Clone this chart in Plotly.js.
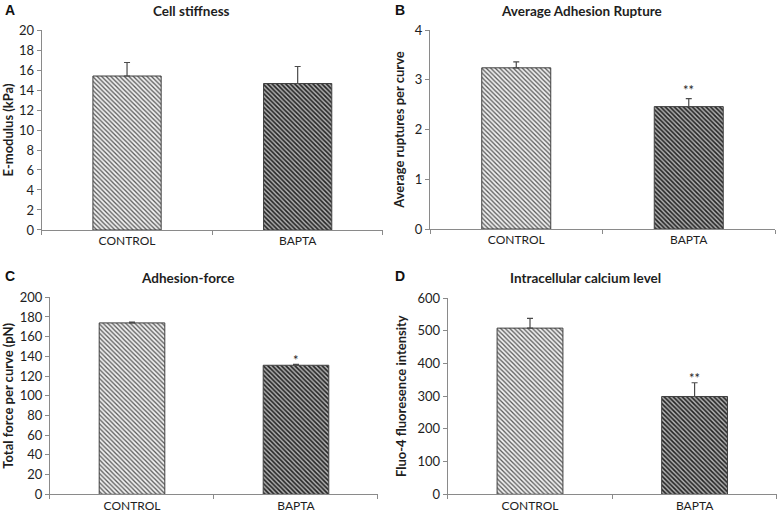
<!DOCTYPE html>
<html>
<head>
<meta charset="utf-8">
<script src="https://cdn.plot.ly/plotly-3.0.1.min.js"></script>
<style>
  html, body { margin: 0; padding: 0; background: #fff; }
  #chart { width: 780px; height: 520px; }
</style>
</head>
<body>
<div id="chart"></div>
<script>
// values
var groups = ["CONTROL", "BAPTA"];

var stiffness = [15.4, 14.65];
var stiffnessErr = [1.35, 1.7];

var ruptures = [3.24, 2.46];
var rupturesErr = [0.12, 0.16];

var adhesion = [174, 131];
var adhesionErr = [0.8, 1.0];

var calcium = [508, 299];
var calciumErr = [30, 42];

// significance marks: text and where they sit
var sigRuptures = ["", "**"];
var sigRupturesY = [0, 2.8];
var sigAdhesion = ["", "*"];
var sigAdhesionY = [0, 136];
var sigCalcium = ["", "**"];
var sigCalciumY = [0, 354];

var panelTitles = ["Cell stiffness", "Average Adhesion Rupture", "Adhesion-force", "Intracellular calcium level"];
var panelLetters = ["A", "B", "C", "D"];
var yTitles = ["E-modulus (kPa)", "Average ruptures per curve", "Total force per curve (pN)", "Fluo-4 fluoresence intensity"];

var FONT = "Lato, 'Open Sans', sans-serif";
var TXT = "#1e1e1e";

// hatch for each group: background colour, line colour, density
var barBg = ["#f0f0f0", "#b0b0b0"];
var barFg = ["#5a5a5a", "#222222"];
var barSolidity = [0.4, 0.5];

function makeTrace(k, vals, errs, n) {
    var sfx = n == 1 ? "" : String(n);
    return {
        type: "bar",
        x: [groups[k]],
        y: [vals[k]],
        width: 0.4,
        xaxis: "x" + sfx,
        yaxis: "y" + sfx,
        marker: {
            color: barBg[k],
            pattern: {
                shape: "\\",
                size: 3.2,
                solidity: barSolidity[k],
                fgcolor: barFg[k],
                fgopacity: 1,
                fillmode: "overlay"
            },
            line: { color: "#404040", width: 1 }
        },
        error_y: {
            type: "data",
            symmetric: false,
            array: [errs[k]],
            arrayminus: [0],
            color: "#4a4a4a",
            thickness: 1.2,
            width: 3
        },
        showlegend: false,
        hoverinfo: "skip"
    };
}

var data = [];
var sets = [[stiffness, stiffnessErr], [ruptures, rupturesErr], [adhesion, adhesionErr], [calcium, calciumErr]];
for (var p = 0; p < sets.length; p++) {
    for (var k = 0; k < groups.length; k++) {
        data.push(makeTrace(k, sets[p][0], sets[p][1], p + 1));
    }
}

function xAxis(domain, anchor) {
    return {
        domain: domain,
        anchor: anchor,
        type: "category",
        categoryarray: groups,
        range: [-0.5, 1.5],
        showline: true,
        linecolor: "#8a8a8a",
        linewidth: 1,
        ticks: "outside",
        tickson: "boundaries",
        ticklen: 4,
        tickcolor: "#8a8a8a",
        showgrid: false,
        zeroline: false,
        tickfont: { family: FONT, size: 12, color: TXT },
        fixedrange: true
    };
}

function yAxis(domain, anchor, range, dtick, title) {
    return {
        domain: domain,
        anchor: anchor,
        range: range,
        dtick: dtick,
        showline: true,
        linecolor: "#8a8a8a",
        linewidth: 1,
        ticks: "outside",
        ticklen: 4,
        tickcolor: "#8a8a8a",
        showgrid: false,
        zeroline: false,
        tickfont: { family: FONT, size: 13, color: TXT },
        title: { text: "<b>" + title + "</b>", font: { family: FONT, size: 13, color: TXT }, standoff: 7 },
        fixedrange: true
    };
}

var annotations = [];
var titlePos = [[0.245, 0.978], [0.746, 0.978], [0.240, 0.466], [0.751, 0.466]];
var letterPos = [[0.004, 0.980], [0.504, 0.980], [0.004, 0.470], [0.504, 0.470]];
for (var i = 0; i < 4; i++) {
    annotations.push({
        xref: "paper", yref: "paper", x: titlePos[i][0], y: titlePos[i][1],
        text: "<b>" + panelTitles[i] + "</b>", showarrow: false,
        xanchor: "center", yanchor: "middle",
        font: { family: FONT, size: 13.5, color: TXT }
    });
    annotations.push({
        xref: "paper", yref: "paper", x: letterPos[i][0], y: letterPos[i][1],
        text: "<b>" + panelLetters[i] + "</b>", showarrow: false,
        xanchor: "left", yanchor: "middle",
        font: { family: "'Liberation Sans', Arial, sans-serif", size: 14, color: "#111" }
    });
}

function addSig(marks, ys, n) {
    var sfx = n == 1 ? "" : String(n);
    for (var k = 0; k < groups.length; k++) {
        if (!marks[k]) continue;
        annotations.push({
            xref: "x" + sfx, yref: "y" + sfx, x: groups[k], y: ys[k],
            text: marks[k], showarrow: false, yanchor: "middle",
            font: { family: FONT, size: 13, color: TXT }
        });
    }
}
addSig(sigRuptures, sigRupturesY, 2);
addSig(sigAdhesion, sigAdhesionY, 3);
addSig(sigCalcium, sigCalciumY, 4);

var layout = {
    width: 780,
    height: 520,
    margin: { l: 0, r: 0, t: 0, b: 0 },
    paper_bgcolor: "#fff",
    plot_bgcolor: "#fff",
    font: { family: FONT, color: TXT },
    barmode: "overlay",
    xaxis: xAxis([0.0535, 0.491], "y"),
    yaxis: yAxis([0.5577, 0.9423], "x", [0, 20], 2, yTitles[0]),
    xaxis2: xAxis([0.5513, 0.9936], "y2"),
    yaxis2: yAxis([0.5596, 0.9423], "x2", [0, 4], 1, yTitles[1]),
    xaxis3: xAxis([0.0641, 0.4846], "y3"),
    yaxis3: yAxis([0.0494, 0.4283], "x3", [0, 200], 20, yTitles[2]),
    xaxis4: xAxis([0.574, 0.996], "y4"),
    yaxis4: yAxis([0.0494, 0.4269], "x4", [0, 600], 100, yTitles[3]),
    annotations: annotations
};

Plotly.newPlot("chart", data, layout, { displayModeBar: false, staticPlot: true });
</script>
</body>
</html>
